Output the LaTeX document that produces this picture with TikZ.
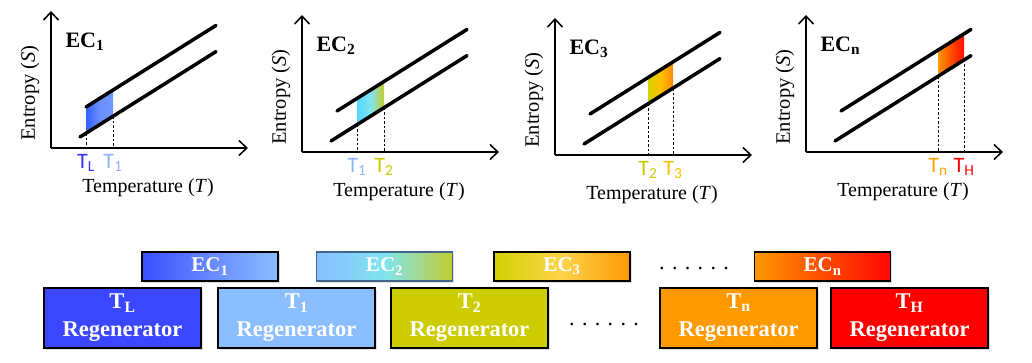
\documentclass[tikz,border=0pt]{standalone}
\usepackage{fontspec}
\setmainfont{Liberation Serif}
\newfontfamily\calibri{Carlito}
\usetikzlibrary{arrows.meta,shadows}

\definecolor{colTL}{HTML}{3A46FF}
\definecolor{colTone}{HTML}{8ABEFF}
\definecolor{colTtwo}{HTML}{CCCC00}
\definecolor{colTthree}{HTML}{FFC000}
\definecolor{colTn}{HTML}{FF9900}
\definecolor{colTH}{HTML}{FF0000}
\definecolor{labTL}{HTML}{3333FF}
\definecolor{labTone}{HTML}{8CB4FF}
\definecolor{labTtwo}{HTML}{C8C800}
\definecolor{labTn}{HTML}{FFA000}
\definecolor{midcyan}{HTML}{80E4F0}
\definecolor{olivelt}{HTML}{C4CC30}
\definecolor{ecborder}{HTML}{41668C}

\tikzset{
  axis/.style={line width=1.5pt, -{Straight Barb[length=8pt,width=15pt]}},
  band/.style={line width=3.5pt, line cap=round},
  guide/.style={line width=0.8pt, dash pattern=on 2.5pt off 2pt},
  regen/.style={draw, line width=1.5pt, minimum width=157pt, minimum height=60pt,
    text=white, align=center, font=\fontsize{22.5}{28}\selectfont\bfseries,
    drop shadow={shadow xshift=1.5pt, shadow yshift=-1.5pt, opacity=0.25}},
  ecbox/.style={draw, line width=1.5pt, minimum width=136pt, minimum height=29pt,
    text=white, font=\fontsize{21}{24}\selectfont\bfseries,
    drop shadow={shadow xshift=1.5pt, shadow yshift=-1.5pt, opacity=0.25}},
}

\begin{document}
\begin{tikzpicture}[x=1pt,y=1pt]
    \useasboundingbox (0,0) rectangle (1032,362);
    % T-S panels
    \foreach \ox/\oy/\a/\b/\n/\la/\lb/\ca/\cm/\cb/\ta/\tb [count=\i] in {
        51/214/35/62/1/L/1/colTL!85!cyan/colTL!40!colTone/colTone!80!blue/labTL/labTone,
        302/210/55/82/2/1/2/colTone!60!cyan/midcyan/olivelt/labTone/labTtwo,
        555/207/93/118/3/2/3/colTtwo!85!yellow/colTthree/colTn!90!red/labTtwo/colTthree,
        806/210/132/158/n/n/H/colTn/colTn!50!colTH/colTH!90!colTn/labTn/colTH}
    {
        \begin{scope}[shift={(\ox,\oy)}]
            \coordinate (O\i) at (0,0);
            \coordinate (Y\i) at (0,137);
            \coordinate (X\i) at (197,0);
            \coordinate (U1\i) at (35,41);
            \coordinate (U2\i) at (165,122.6);
            \coordinate (L1\i) at (29,11);
            \coordinate (L2\i) at (165,96.4);
            \shade[left color=\ca, right color=\cb, middle color=\cm]
                (\a,{-7.21+0.628*\a}) -- (\b,{-7.21+0.628*\b}) -- (\b,{19.02+0.628*\b}) -- (\a,{19.02+0.628*\a}) -- cycle;
            \draw[guide] (\a,{-7.21+0.628*\a}) -- (\a,0);
            \draw[guide] (\b,{-7.21+0.628*\b}) -- (\b,0);
            \draw[axis] (O\i) -- (Y\i);
            \draw[axis] (O\i) -- (X\i);
            \draw[band] (U1\i) -- (U2\i);
            \draw[band] (L1\i) -- (L2\i);
            \node[anchor=west, font=\fontsize{22}{24}\selectfont\bfseries] (title\i) at (11,106) {EC\textsubscript{\n}};
            \node[rotate=90, font=\fontsize{20.5}{22}\selectfont] (ylab\i) at (-21,55) {Entropy (\textit{S})};
            \node[font=\fontsize{20}{22}\selectfont] (xlab\i) at (97,-40) {Temperature (\textit{T})};
            \node[text=\ta, font=\calibri\fontsize{22}{24}\selectfont] (ta\i) at (\a,-15) {T\textsubscript{\la}};
            \node[text=\tb, font=\calibri\fontsize{22}{24}\selectfont] (tb\i) at (\b,-15) {T\textsubscript{\lb}};
        \end{scope}
    }
    % electrocaloric stages
    \node[ecbox, left color=colTL!95!cyan, right color=colTone, middle color=colTL!45!colTone] (ec1) at (210,95.5) {EC\textsubscript{1}};
    \node[ecbox, draw=ecborder, left color=colTone, right color=olivelt, middle color=midcyan] (ec2) at (384.5,95.5) {EC\textsubscript{2}};
    \node[ecbox, left color=colTtwo!90!yellow, right color=colTn, middle color=colTthree!70!white] (ec3) at (562,95.5) {EC\textsubscript{3}};
    \node[font=\fontsize{22}{24}\selectfont] (dotsA) at (694,93) {. . . . . .};
    \node[ecbox, left color=colTn, right color=colTH!95!colTn, middle color=colTn!50!colTH] (ecn) at (822.5,95.5) {EC\textsubscript{n}};
    % regenerators
    \node[regen, fill=colTL] (regL) at (122.5,44) {T\textsubscript{L}\\Regenerator};
    \node[regen, fill=colTone] (reg1) at (296.5,44) {T\textsubscript{1}\\Regenerator};
    \node[regen, fill=colTtwo] (reg2) at (469.5,44) {T\textsubscript{2}\\Regenerator};
    \node[font=\fontsize{22}{24}\selectfont] (dotsB) at (604,37) {. . . . . .};
    \node[regen, fill=colTn] (regn) at (738.5,44) {T\textsubscript{n}\\Regenerator};
    \node[regen, fill=colTH] (regH) at (909.5,44) {T\textsubscript{H}\\Regenerator};
\end{tikzpicture}
\end{document}
